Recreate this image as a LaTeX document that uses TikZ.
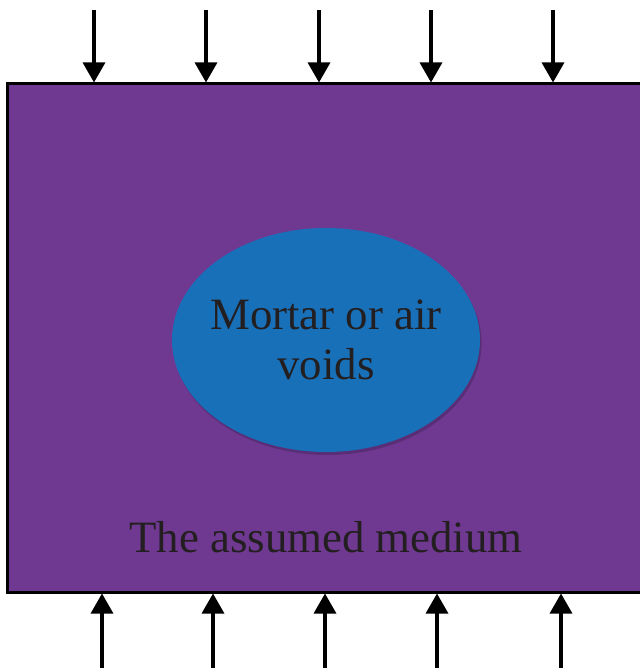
\documentclass[tikz,border=0pt]{standalone}
\usepackage{fontspec}
\setmainfont{Liberation Serif}
\usepackage{xcolor}
\usepackage{tikz}
\usetikzlibrary{positioning, arrows.meta, shapes.geometric, shadows}

\definecolor{mediumpurple}{RGB}{111,57,146}
\definecolor{voidblue}{RGB}{24,112,185}
\definecolor{textgray}{RGB}{35,31,32}

\begin{document}
\begin{tikzpicture}[
    x=0.5pt, y=-0.5pt,
    medium/.style={rectangle, draw, line width=1.5pt, fill=mediumpurple, minimum width=321.5pt, minimum height=254pt, inner sep=0pt},
    void/.style={ellipse, fill=voidblue, minimum width=154pt, minimum height=112pt, inner xsep=-5pt, inner ysep=0pt, align=center,
        text=textgray, font=\fontsize{22.4}{25}\selectfont,
        drop shadow={shadow xshift=0.8pt, shadow yshift=-1.5pt, fill=black, opacity=0.18}},
    label/.style={text=textgray, font=\fontsize{22.4}{25}\selectfont},
    load/.style={-{Triangle[width=11pt, length=10pt]}, line width=1.6pt}
]
\useasboundingbox (0,0) rectangle (639,668);

% Nodes
\node[medium] (box) at (328.5,338) {};
\node[void] (void) at (326,340) {Mortar or air\\voids};
\node[label] (name) at (326,537) {The assumed medium};

% Loads
\foreach \x [count=\i] in {94,206,319,431,553}
  \coordinate (top\i) at (\x,10);
\foreach \x [count=\i] in {102,213,325,437,561}
  \coordinate (bot\i) at (\x,668);

\foreach \i in {1,...,5} {
  \draw[load] (top\i) -- (top\i |- box.north);
  \draw[load] (bot\i) -- (bot\i |- box.south);
}

\end{tikzpicture}
\end{document}
